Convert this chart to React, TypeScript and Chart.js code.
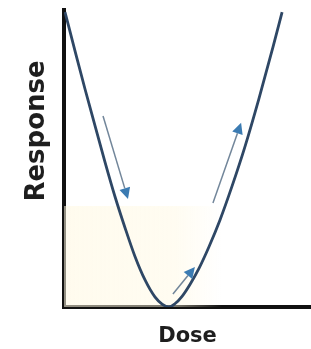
import React, { useEffect, useRef } from "react";
import { Chart, registerables } from "chart.js";

Chart.register(...registerables);

// Dose–response curve (arbitrary units, 0–100 on both axes)
const doseValues = [
  0.4, 4.5, 8.5, 12.6, 16.6, 20.6, 24.7, 28.7, 32.8, 36.8, 39.7, 42.5,
  44.9, 47.8, 51.0, 54.7, 58.7, 63.2, 68.0, 73.3, 78.9, 84.6, 88.3,
];
const responseValues = [
  99.3, 86.1, 73.4, 60.9, 48.8, 37.3, 26.7, 17.1, 9.1, 3.4, 1.0, 0,
  1.1, 3.6, 7.6, 13.1, 20.3, 29.4, 40.6, 54.1, 70.1, 87.5, 99.3,
];

// Direction arrows: start (x,y) -> end (x,y) in data units
const arrowStartX = [15.8, 44.1, 60.3];
const arrowStartY = [64.3, 4.4, 35.0];
const arrowEndX = [25.9, 53.0, 71.7];
const arrowEndY = [36.4, 13.5, 62.0];

// Faint low-response band (data units)
const bandX = [0, 64];
const bandY = [0, 34];

const xTitle = "Dose";
const yTitle = "Response";

const decorPlugin = {
  id: "decor",
  beforeDatasetsDraw(chart: any) {
    const { ctx, scales } = chart;
    const x = scales.x, y = scales.y;
    const x0 = x.getPixelForValue(bandX[0]);
    const x1 = x.getPixelForValue(bandX[1]);
    const y0 = y.getPixelForValue(bandY[0]);
    const y1 = y.getPixelForValue(bandY[1]);
    ctx.save();
    const g = ctx.createLinearGradient(x0, 0, x1, 0);
    g.addColorStop(0, "rgba(255,248,224,0.55)");
    g.addColorStop(0.7, "rgba(255,248,224,0.45)");
    g.addColorStop(1, "rgba(255,248,224,0)");
    ctx.fillStyle = g;
    ctx.fillRect(x0, y1, x1 - x0, y0 - y1);
    ctx.restore();
  },
  afterDatasetsDraw(chart: any) {
    const { ctx, scales } = chart;
    const x = scales.x, y = scales.y;
    ctx.save();
    for (let i = 0; i < arrowStartX.length; i++) {
      const sx = x.getPixelForValue(arrowStartX[i]);
      const sy = y.getPixelForValue(arrowStartY[i]);
      const ex = x.getPixelForValue(arrowEndX[i]);
      const ey = y.getPixelForValue(arrowEndY[i]);
      const ang = Math.atan2(ey - sy, ex - sx);
      const headLen = 11;
      const headW = 5.5;
      const bx = ex - Math.cos(ang) * headLen;
      const by = ey - Math.sin(ang) * headLen;
      ctx.strokeStyle = "#72869a";
      ctx.lineWidth = 1.5;
      ctx.beginPath();
      ctx.moveTo(sx, sy);
      ctx.lineTo(bx, by);
      ctx.stroke();
      ctx.fillStyle = "#3b7bb2";
      ctx.beginPath();
      ctx.moveTo(ex, ey);
      ctx.lineTo(bx + Math.sin(ang) * headW, by - Math.cos(ang) * headW);
      ctx.lineTo(bx - Math.sin(ang) * headW, by + Math.cos(ang) * headW);
      ctx.closePath();
      ctx.fill();
    }
    ctx.restore();
  },
  afterDraw(chart: any) {
    const { ctx } = chart;
    ctx.save();
    ctx.translate(37, 131);
    ctx.rotate(-Math.PI / 2);
    ctx.font = "bold 26px 'DejaVu Sans'";
    ctx.fillStyle = "#1e1e1e";
    ctx.textAlign = "center";
    ctx.textBaseline = "middle";
    ctx.fillText(yTitle, 0, 0);
    ctx.restore();
  },
};

export default function App() {
  const ref = useRef<HTMLCanvasElement>(null);
  useEffect(() => {
    document.body.style.margin = "0";
    const chart = new Chart(ref.current as HTMLCanvasElement, {
      type: "line",
      data: {
        datasets: [
          {
            data: doseValues.map((d, i) => ({ x: d, y: responseValues[i] })),
            borderColor: "#2e4765",
            borderWidth: 2.8,
            pointRadius: 0,
            cubicInterpolationMode: "monotone",
            fill: false,
          },
        ],
      },
      options: {
        responsive: false,
        animation: false,
        layout: { padding: { left: 64, top: 10, right: 0, bottom: 0 } },
        plugins: { legend: { display: false }, tooltip: { enabled: false } },
        scales: {
          x: {
            type: "linear",
            min: 0,
            max: 100,
            ticks: { display: false },
            grid: { display: false, drawTicks: false },
            border: { display: true, color: "#111", width: 4 },
            title: {
              display: true,
              text: xTitle,
              color: "#1e1e1e",
              font: { family: "'DejaVu Sans'", size: 21, weight: "bold", lineHeight: 1 },
              padding: { top: 19, bottom: 2 },
            },
          },
          y: {
            type: "linear",
            min: 0,
            max: 100,
            ticks: { display: false },
            grid: { display: false, drawTicks: false },
            border: { display: true, color: "#111", width: 4 },
            title: { display: false },
          },
        },
      },
      plugins: [decorPlugin],
    } as any);
    return () => chart.destroy();
  }, []);
  return (
    <div style={{ position: "absolute", left: 0, top: 0, width: 311, height: 349, background: "#fff" }}>
      <canvas ref={ref} width={311} height={349} style={{ display: "block" }} />
    </div>
  );
}
